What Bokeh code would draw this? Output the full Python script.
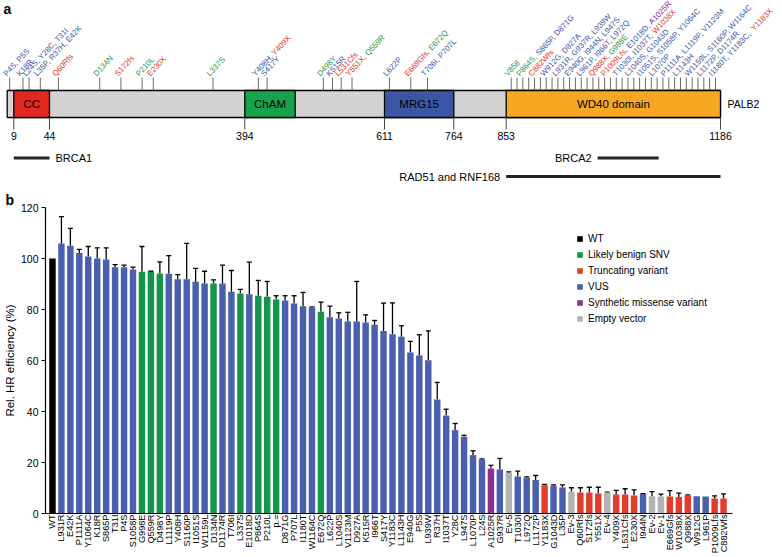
import math
import numpy as np
from bokeh.plotting import figure
from bokeh.layouts import column
from bokeh.models import (Range1d, ColumnDataSource, FixedTicker, Whisker, TeeHead,
                          Legend, LegendItem)
from bokeh.core.properties import value
from bokeh.embed import file_html
from bokeh.resources import INLINE

# ---------------- data: panel a (PALB2 schematic) ----------------
PROTEIN_LEN = 1186
DOMAIN_NAMES = ["CC", "ChAM", "MRG15", "WD40 domain"]
DOMAIN_START = [9, 394, 611, 853]
DOMAIN_END = [44, 446, 764, 1186]
DOMAIN_CLASS = ["cc", "cham", "mrg", "wd"]
BOUNDARY_TICKS = [9, 44, 394, 611, 764, 853, 1186]
BINDING_NAMES = ["BRCA1", "BRCA2", "RAD51 and RNF168"]
BINDING_START = [9, 995, 853]
BINDING_END = [44, 1090, 1186]

MUT_AA = [4, 18, 24, 35, 60, 134, 172, 210, 230, 337, 408, 417, 498, 515, 531, 551, 622, 669, 706,
          858, 864, 882, 912, 931, 940, 961, 988, 1009, 1030, 1040, 1051, 1070, 1111, 1143,
          1159, 1172, 1180]
MUT_TEXT = ["P4S, P5S", "K18R", "L24S, Y28C, T31I", "L35P, R37H, E42K", "Q60Rfs", "D134N",
            "S172fs", "P210L", "E230X", "L337S", "Y408H, |Y409X", "S417Y", "D498Y", "K515R",
            "L531Cfs", "Y551X, |Q559R", "L622P", "E669Gfs, |E672Q", "T706I, P707L",
            "V858", "P864S, |S865P, D871G", "C882Wfs", "W912G, D927A", "L931R, G937R, L939W",
            "E940G, I944N, L947S", "L961P, I966T, L972Q", "Q988X, |G998E",
            "P1009Lfs, |E1018D, |A1025R", "T1030I, I1037T, |W1038X", "L1040S, G1043D",
            "I1051S, S1058P, Y1064C", "L1070P", "P1111A, L1119P, V1123M", "L1143H",
            "W1159L, S1160P, W1164C", "L1172P, D1174R", "I1180T, Y1183C, |Y1183X"]
MUT_CLASS = ["V", "V", "V", "V", "T", "B", "T", "B", "T", "B", "V|T", "V", "B", "V", "T", "T|B",
             "V", "T|B", "V", "B", "B|V", "T", "V", "V", "V", "V", "T|B", "T|V|S", "V|T", "V",
             "V", "V", "V", "V", "V", "V", "V|T"]

# ---------------- data: panel b (HR efficiency) ----------------
VAR_LABELS = ["WT", "L931R", "E42K", "P1111A", "Y1064C", "K18R", "S865P", "T31I", "P4S", "S1058P",
              "G998E", "Q559R", "D498Y", "L1119P", "Y408H", "S1160P", "I1051S", "W1159L", "D134N",
              "D1174R", "T706I", "L337S", "E1018D", "P864S", "P210L", "p.=", "D871G", "P707L",
              "I1180T", "W1164C", "E672Q", "L622P", "L1040S", "V1123M", "D927A", "K515R", "I966T",
              "S417Y", "Y1183C", "L1143H", "E940G", "P5S", "L939W", "R37H", "I1037T", "Y28C",
              "L947S", "L1070P", "L24S", "A1025R", "G937R", "Ev-5", "T1030I", "L972Q", "L1172P",
              "Y1183X", "G1043D", "L35P", "Ev-3", "Q60Rfs", "S172fs", "Y551X", "Ev-4", "Y409X",
              "L531Cfs", "E230X", "I944N", "Ev-2", "Ev-1", "E669Gfs", "W1038X", "Q988X", "W912G",
              "L961P", "P1009Lfs", "C882Wfs"]
VAR_VALUES = [100, 105.9, 105.0, 102.2, 100.8, 100.0, 99.6, 96.6, 96.6, 95.7,
              94.8, 94.8, 94.1, 94.0, 91.9, 91.9, 90.9, 90.2, 90.2,
              90.2, 87.0, 86.3, 86.0, 85.4, 85.0, 83.9, 83.5, 82.4,
              81.3, 80.8, 79.1, 77.0, 76.5, 75.3, 75.3, 74.9, 74.0,
              71.6, 70.3, 69.3, 63.1, 62.0, 60.1, 44.7, 38.4, 32.7,
              30.1, 22.9, 21.2, 17.6, 17.3, 16.0, 14.5, 14.1, 13.1,
              11.1, 10.9, 10.2, 8.5, 8.2, 8.2, 7.8, 8.2, 7.5,
              7.5, 7.1, 7.6, 6.8, 6.7, 6.7, 6.5, 7.1, 6.8,
              6.7, 5.9, 5.9]
VAR_ERRORS = [0, 10.5, 6.8, 1.4, 3.9, 4.2, 4.6, 1.0, 0.8, 0.9,
              9.9, 0.2, 4.6, 7.1, 1.8, 14.0, 5.2, 4.8, 1.4,
              7.2, 8.3, 1.6, 12.6, 6.0, 6.0, 1.5, 1.9, 3.0,
              5.4, 0.2, 3.8, 4.3, 2.2, 3.6, 15.7, 3.0, 1.7,
              10.9, 12.3, 4.3, 4.4, 8.1, 11.5, 6.7, 2.5, 2.6,
              0.6, 1.7, 0.2, 1.3, 4.3, 0.3, 2.1, 0.3, 1.8,
              0.3, 0.3, 1.0, 1.6, 1.9, 2.1, 2.5, 0.2, 1.6,
              2.2, 2.2, 0.2, 1.8, 0.9, 2.3, 1.5, 0.2, 0,
              0, 1.0, 1.8]
VAR_CLASS = ["WT", "V", "V", "V", "V", "V", "V", "V", "V", "V",
             "B", "B", "B", "V", "V", "V", "V", "V", "B",
             "V", "V", "B", "V", "B", "B", "B", "V", "V",
             "V", "V", "B", "V", "V", "V", "V", "V", "V",
             "V", "V", "V", "V", "V", "V", "V", "V", "V",
             "V", "V", "V", "S", "V", "E", "V", "V", "V",
             "T", "V", "V", "E", "T", "T", "T", "E", "T",
             "T", "T", "V", "E", "E", "T", "T", "T", "V",
             "V", "T", "T"]
LEGEND_ORDER = ["WT", "B", "T", "V", "S", "E"]
LEGEND_TEXT = ["WT", "Likely benign SNV", "Truncating variant", "VUS",
               "Synthetic missense variant", "Empty vector"]
Y_TICKS = [0, 20, 40, 60, 80, 100, 120]

# ---------------- styles / layout ----------------
FONT = "Liberation Sans"
BAR_COLORS = {"WT": "#000000", "B": "#14964a", "T": "#e33b2c", "V": "#4a5fae",
              "S": "#8d2f8f", "E": "#b3b3b3"}
TEXT_COLORS = {"V": "#3d58a7", "T": "#e5352b", "B": "#1e9a49", "S": "#92278f"}
DOMAIN_COLORS = {"cc": "#e2271f", "cham": "#16a34c", "mrg": "#3c56a6", "wd": "#f7a823"}
# schematic (not-to-scale) placement of residue numbers along the drawing
SCHEM_AA = [1, 9, 44, 394, 446, 611, 764, 853, 1186]
SCHEM_X = [6.7, 13.3, 49, 244.3, 294.7, 384, 453.3, 505.7, 720]

W_TOTAL, HA, HB = 782, 188, 368
BAR_TOP, BAR_BOT = 90, 117
ANG = math.radians(47)
MUT_FS = 7.9

CW = {' ': 278, ',': 278, '.': 278, '-': 333, '=': 584}
CW.update({d: 556 for d in "0123456789"})
CW.update(dict(A=667, B=667, C=722, D=722, E=667, F=611, G=778, H=722, I=278, J=500, K=667,
               L=556, M=833, N=722, O=778, P=667, Q=778, R=722, S=667, T=611, U=722, V=667,
               W=944, X=667, Y=667, Z=611))
CW.update(dict(a=556, b=556, c=500, d=556, e=556, f=278, g=556, h=556, i=222, j=222, k=500,
               l=222, m=833, n=556, o=556, p=556, q=556, r=333, s=500, t=278, u=556, v=500,
               w=722, x=500, y=500, z=500))


def text_w(s, size):
    return sum(CW.get(c, 556) for c in s) / 1000.0 * size


def amap(aa):
    return np.interp(aa, SCHEM_AA, SCHEM_X)


def no_frame_align(p):
    try:
        p.frame_align = False
    except Exception:
        pass


# ================= panel a =================
pa = figure(width=W_TOTAL, height=HA, x_range=Range1d(0, W_TOTAL), y_range=Range1d(HA, 0),
            output_backend="svg", toolbar_location=None, x_axis_location=None,
            y_axis_location=None, min_border=0, outline_line_color=None)
pa.grid.visible = False
no_frame_align(pa)

pa.quad(left=[amap(1)], right=[amap(PROTEIN_LEN)], top=[BAR_TOP], bottom=[BAR_BOT],
        fill_color="#d3d3d3", line_color="black", line_width=1.3)
dsrc = ColumnDataSource(dict(
    left=amap(DOMAIN_START), right=amap(DOMAIN_END),
    color=[DOMAIN_COLORS[c] for c in DOMAIN_CLASS], name=DOMAIN_NAMES,
    xc=(amap(DOMAIN_START) + amap(DOMAIN_END)) / 2.0,
    yc=[(BAR_TOP + BAR_BOT) / 2.0] * len(DOMAIN_NAMES)))
pa.quad(left="left", right="right", top=BAR_TOP, bottom=BAR_BOT, fill_color="color",
        line_color="black", line_width=1.3, source=dsrc)
pa.text(x="xc", y="yc", text="name", source=dsrc, text_align="center", text_baseline="middle",
        text_font=value(FONT), text_font_size="11.5px", text_color="black")
pa.text(x=[amap(PROTEIN_LEN) + 7], y=[(BAR_TOP + BAR_BOT) / 2.0], text=["PALB2"],
        text_align="left", text_baseline="middle", text_font=value(FONT),
        text_font_size="10.5px", text_color="black")

# boundary ticks and numbers
bx = amap(BOUNDARY_TICKS)
pa.segment(x0=bx, y0=[BAR_BOT] * len(bx), x1=bx, y1=[BAR_BOT + 12] * len(bx),
           line_color="#333333", line_width=0.9)
pa.text(x=bx, y=[135] * len(bx), text=[str(b) for b in BOUNDARY_TICKS], text_align="center",
        text_baseline="middle", text_font=value(FONT), text_font_size="10.5px",
        text_color="black")

# binding regions
BIND_ROW_Y = [157.5, 157.5, 176]
BIND_SIDE = ["right", "left", "left"]
b0, b1 = amap(BINDING_START), amap(BINDING_END)
pa.segment(x0=b0, y0=BIND_ROW_Y, x1=b1, y1=BIND_ROW_Y, line_color="#222222", line_width=2.8)
for name, s, e, yy, side in zip(BINDING_NAMES, b0, b1, BIND_ROW_Y, BIND_SIDE):
    if side == "right":
        pa.text(x=[e + 6], y=[yy], text=[name], text_align="left", text_baseline="middle",
                text_font=value(FONT), text_font_size="11px", text_color="black")
    else:
        pa.text(x=[s - 6], y=[yy], text=[name], text_align="right", text_baseline="middle",
                text_font=value(FONT), text_font_size="11px", text_color="black")

# mutation ticks and labels
wd_left, wd_right = amap(853), amap(PROTEIN_LEN)
wd_idx = [i for i, a in enumerate(MUT_AA) if a >= 853]
wd_pos = np.linspace(wd_left + 3, wd_right - 7, len(wd_idx))
tick_x = list(np.linspace(wd_left + 5, wd_right - 5, 2 * len(wd_idx)))
lab_x = []
for i, a in enumerate(MUT_AA):
    if i in wd_idx:
        lx = wd_pos[wd_idx.index(i)]
    else:
        t = float(amap(a))
        tick_x.append(t)
        lx = t - 1.5
    lab_x.append(lx)
pa.segment(x0=tick_x, y0=[77] * len(tick_x), x1=tick_x, y1=[BAR_TOP] * len(tick_x),
           line_color="#444444", line_width=0.8)

seg_x, seg_y, seg_t, seg_c = [], [], [], []
LY = 77.5
for lx, txt, cls in zip(lab_x, MUT_TEXT, MUT_CLASS):
    cum = 0.0
    for part, c in zip(txt.split("|"), cls.split("|")):
        seg_x.append(lx + cum * math.cos(ANG))
        seg_y.append(LY - cum * math.sin(ANG))
        seg_t.append(part)
        seg_c.append(TEXT_COLORS[c])
        cum += text_w(part, MUT_FS)
msrc = ColumnDataSource(dict(x=seg_x, y=seg_y, text=seg_t, color=seg_c))
pa.text(x="x", y="y", text="text", text_color="color", source=msrc, angle=ANG,
        text_align="left", text_baseline="bottom", text_font=value(FONT),
        text_font_size=f"{MUT_FS}px")

pa.text(x=[3], y=[8], text=["a"], text_align="left", text_baseline="middle",
        text_font=value(FONT), text_font_size="14px", text_font_style="bold",
        text_color="black")

# ================= panel b =================
n = len(VAR_LABELS)
pb = figure(width=W_TOTAL, height=HB, x_range=Range1d(-0.78, n), y_range=Range1d(0, 120),
            output_backend="svg", toolbar_location=None, min_border_left=43,
            min_border_right=50, min_border_top=19, min_border_bottom=41,
            outline_line_color=None, title="b")
pb.grid.visible = False
no_frame_align(pb)
pb.title.align = "left"
pb.title.offset = -40
pb.title.standoff = 0
pb.title.text_font = FONT
pb.title.text_font_size = "14px"
pb.title.text_font_style = "bold"
pb.title.text_color = "black"

xi = np.arange(n)
vals = np.array(VAR_VALUES, dtype=float)
errs = np.array(VAR_ERRORS, dtype=float)
renderers = {}
for cls in LEGEND_ORDER:
    idx = [i for i, c in enumerate(VAR_CLASS) if c == cls]
    src = ColumnDataSource(dict(x=xi[idx], top=vals[idx]))
    renderers[cls] = pb.vbar(x="x", top="top", bottom=0, width=0.72, source=src,
                             fill_color=BAR_COLORS[cls], line_color=None)

em = errs > 0
wsrc = ColumnDataSource(dict(base=xi[em], lower=vals[em], upper=(vals + errs)[em]))
pb.add_layout(Whisker(source=wsrc, base="base", lower="lower", upper="upper",
                      dimension="height", line_color="black", line_width=1.3,
                      upper_head=TeeHead(size=5, line_color="black", line_width=1.3),
                      lower_head=None))

pb.xaxis.ticker = FixedTicker(ticks=list(range(n)))
pb.xaxis.major_label_overrides = {i: lab for i, lab in enumerate(VAR_LABELS)}
pb.xaxis.major_label_orientation = math.pi / 2
pb.xaxis.major_label_text_font = FONT
pb.xaxis.major_label_text_font_size = "9.2px"
pb.xaxis.major_label_text_color = "black"
pb.xaxis.major_label_standoff = 1
pb.xaxis.major_tick_in = 0
pb.xaxis.major_tick_out = 0
pb.xaxis.minor_tick_in = 0
pb.xaxis.minor_tick_out = 0
pb.xaxis.major_tick_line_color = None
pb.xaxis.minor_tick_line_color = None
pb.xaxis.axis_line_width = 1.2
pb.xaxis.axis_line_color = "black"

pb.yaxis.ticker = FixedTicker(ticks=Y_TICKS)
pb.yaxis.major_label_text_font = FONT
pb.yaxis.major_label_text_font_size = "10.5px"
pb.yaxis.major_label_text_color = "black"
pb.yaxis.major_label_standoff = 3
pb.yaxis.major_tick_in = 0
pb.yaxis.major_tick_out = 4
pb.yaxis.minor_tick_in = 0
pb.yaxis.minor_tick_out = 0
pb.yaxis.major_tick_line_color = "black"
pb.yaxis.minor_tick_line_color = None
pb.yaxis.axis_line_width = 1.2
pb.yaxis.axis_line_color = "black"
pb.yaxis.axis_label = "Rel. HR efficiency (%)"
pb.yaxis.axis_label_text_font = FONT
pb.yaxis.axis_label_text_font_size = "11.5px"
pb.yaxis.axis_label_text_font_style = "normal"
pb.yaxis.axis_label_text_color = "black"
pb.yaxis.axis_label_standoff = 2

items = [LegendItem(label=t, renderers=[renderers[c]]) for c, t in zip(LEGEND_ORDER, LEGEND_TEXT)]
legend = Legend(items=items, location=(531, 189), orientation="vertical", padding=0, margin=0,
                spacing=4, glyph_width=7, glyph_height=7, label_height=12, label_standoff=5,
                label_text_font=FONT, label_text_font_size="10px", label_text_color="black",
                border_line_alpha=0, background_fill_alpha=0)
pb.add_layout(legend)

layout = column(pa, pb)
open("out.html", "w").write(file_html(layout, INLINE))
